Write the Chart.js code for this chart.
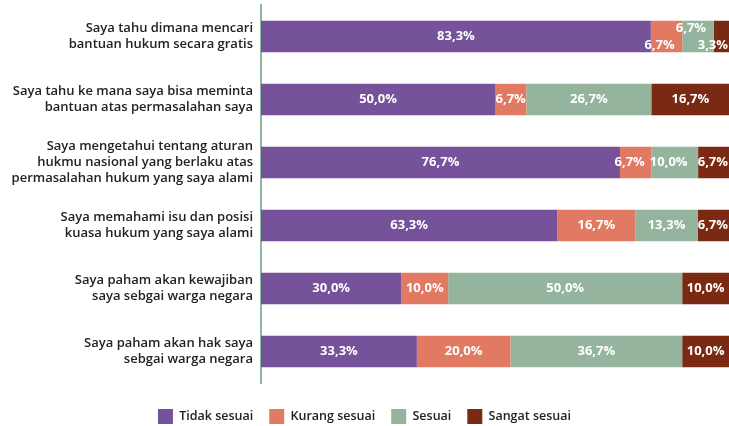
<!DOCTYPE html>
<html>
<head>
<meta charset="utf-8">
<script src="https://cdn.jsdelivr.net/npm/chart.js@4"></script>
<style>
  html, body { margin: 0; padding: 0; background: #fff; }
  #wrap { width: 729px; height: 426px; }
</style>
</head>
<body>
<div id="wrap"><canvas id="chart"></canvas></div>
<script>
const categories = [
  ["Saya tahu dimana mencari", "bantuan hukum secara gratis"],
  ["Saya tahu ke mana saya bisa meminta", "bantuan atas permasalahan saya"],
  ["Saya mengetahui tentang aturan", "hukmu nasional yang berlaku atas", "permasalahan hukum yang saya alami"],
  ["Saya memahami isu dan posisi", "kuasa hukum yang saya alami"],
  ["Saya paham akan kewajiban", "saya sebgai warga negara"],
  ["Saya paham akan hak saya", "sebgai warga negara"]
];
const tidakSesuai = [83.3, 50.0, 76.7, 63.3, 30.0, 33.3];
const kurangSesuai = [6.7, 6.7, 6.7, 16.7, 10.0, 20.0];
const sesuai = [6.7, 26.7, 10.0, 13.3, 50.0, 36.7];
const sangatSesuai = [3.3, 16.7, 6.7, 6.7, 10.0, 10.0];

const seriesNames = ["Tidak sesuai", "Kurang sesuai", "Sesuai", "Sangat sesuai"];
const colors = ["#755299", "#E27A63", "#95B49E", "#7A2A12"];

// nudges for crowded labels: "row-dataset": [dx, dy]
const labelNudge = {
  "0-1": [-7, 9],
  "0-2": [-7, -8],
  "0-3": [0, 9],
  "2-1": [-6, 0],
  "2-2": [-6, 0]
};

const fmt = v => v.toFixed(1).replace('.', ',') + '%';

const barLabels = {
  id: 'barLabels',
  afterLayout(chart) {
    // push the legend row down toward the bottom edge
    chart.legend.top += 10;
    chart.legend.bottom += 10;
  },
  afterDatasetsDraw(chart) {
    const ctx = chart.ctx;
    const area = chart.chartArea;
    ctx.save();
    ctx.font = 'bold 13px "Open Sans"';
    ctx.fillStyle = '#fff';
    ctx.textBaseline = 'middle';
    ctx.textAlign = 'center';
    chart.data.datasets.forEach((ds, di) => {
      chart.getDatasetMeta(di).data.forEach((bar, i) => {
        const txt = fmt(ds.data[i]);
        const w = ctx.measureText(txt).width;
        let x = (bar.base + bar.x) / 2;
        let y = bar.y;
        const n = labelNudge[i + '-' + di];
        if (n) { x += n[0]; y += n[1]; }
        if (x + w / 2 > area.right - 1) x = area.right - 1 - w / 2;
        ctx.fillText(txt, x, y);
      });
    });
    ctx.restore();
  }
};

new Chart(document.getElementById('chart'), {
  type: 'bar',
  data: {
    labels: categories,
    datasets: [tidakSesuai, kurangSesuai, sesuai, sangatSesuai].map((d, i) => ({
      label: seriesNames[i],
      data: d,
      backgroundColor: colors[i],
      borderWidth: 0,
      barPercentage: 0.5,
      categoryPercentage: 1.0
    }))
  },
  options: {
    indexAxis: 'y',
    responsive: true,
    maintainAspectRatio: false,
    animation: false,
    layout: { padding: { top: 5, right: 0, bottom: 2, left: 0 } },
    scales: {
      x: {
        stacked: true,
        display: false,
        min: 0,
        max: 100
      },
      y: {
        stacked: true,
        grid: { display: false, drawTicks: false },
        border: { display: true, color: '#8FB59A', width: 2 },
        afterFit(scale) {
          scale.width = 261;
          scale.paddingTop = 0;
          scale.paddingBottom = 0;
        },
        ticks: {
          color: '#222',
          padding: 8,
          font: { family: 'Open Sans', size: 13, weight: '600', lineHeight: 1.23 }
        }
      }
    },
    plugins: {
      legend: {
        position: 'bottom',
        labels: {
          boxWidth: 15,
          boxHeight: 15,
          padding: 16,
          color: '#222',
          font: { family: 'Open Sans', size: 12.5, weight: '600' }
        }
      },
      tooltip: { enabled: false }
    }
  },
  plugins: [barLabels]
});
</script>
</body>
</html>
